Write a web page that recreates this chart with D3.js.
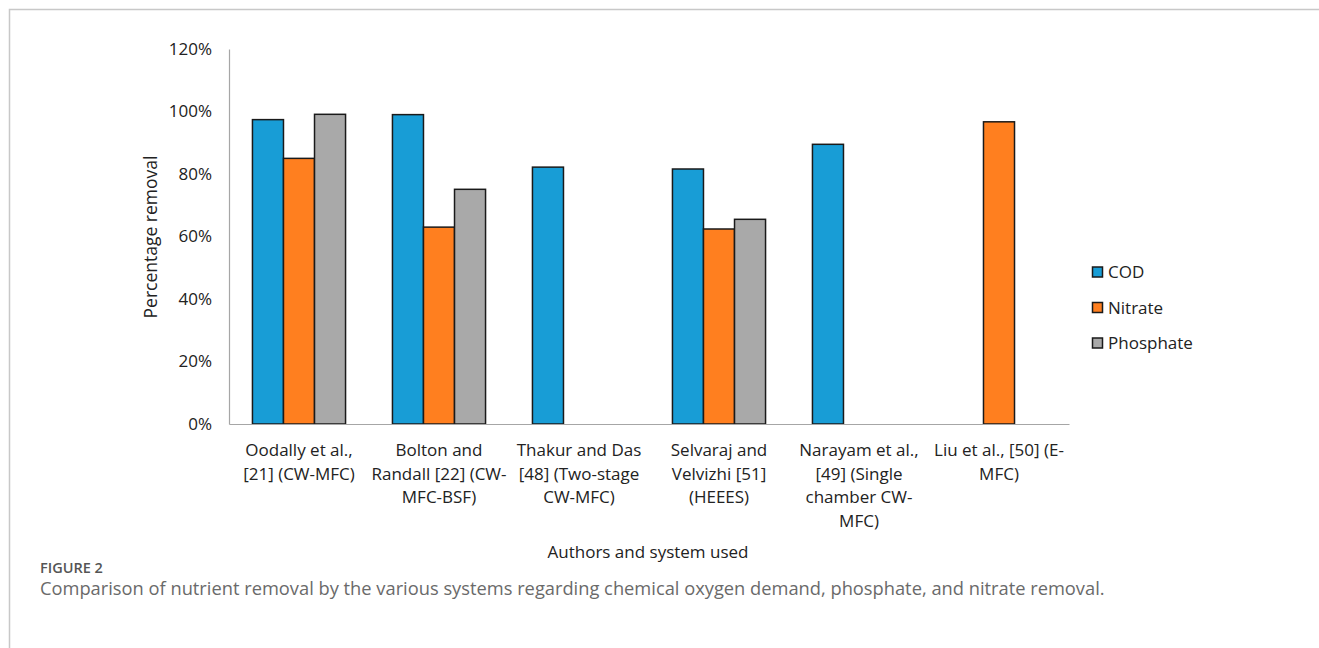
<!DOCTYPE html>
<html>
<head>
<meta charset="utf-8">
<script src="https://cdn.jsdelivr.net/npm/d3@7"></script>
<style>
  body { margin: 0; background: #fff; }
  text { font-family: "Open Sans", "Noto Sans", sans-serif; }
</style>
</head>
<body>
<div id="chart"></div>
<script>
// data
const categories = ["Oodally", "Bolton", "Thakur", "Selvaraj", "Narayam", "Liu"];
const categoryLabels = [
    ["Oodally et al.,", "[21] (CW-MFC)"],
    ["Bolton and", "Randall [22] (CW-", "MFC-BSF)"],
    ["Thakur and Das", "[48] (Two-stage", "CW-MFC)"],
    ["Selvaraj and", "Velvizhi [51]", "(HEEES)"],
    ["Narayam et al.,", "[49] (Single", "chamber CW-", "MFC)"],
    ["Liu et al., [50] (E-", "MFC)"]
];
const seriesNames = ["COD", "Nitrate", "Phosphate"];
const codValues = [0.974, 0.99, 0.822, 0.816, 0.895, null];
const nitrateValues = [0.85, 0.63, null, 0.624, null, 0.967];
const phosphateValues = [0.991, 0.751, null, 0.655, null, null];
const yTicks = [0, 0.2, 0.4, 0.6, 0.8, 1.0, 1.2];
const colors = ["#189dd6", "#ff7f1f", "#a9a9a9"];

const series = [codValues, nitrateValues, phosphateValues];

const W = 1319, H = 648;
const margin = { top: 49, right: 250, bottom: 224, left: 229 },
    width = 1069 - margin.left,
    height = 424 - margin.top;

const svg = d3.select("#chart")
    .append("svg")
    .attr("width", W)
    .attr("height", H);

// page frame
svg.append("path")
    .attr("d", `M9.5,${H} V9.5 H${W}`)
    .attr("fill", "none")
    .attr("stroke", "#c8c8c8")
    .attr("stroke-width", 1.5);

const group = svg.append("g")
    .attr("transform", `translate(${margin.left},${margin.top})`);

const xScale = d3.scaleBand()
    .domain(categories)
    .range([0, width])
    .paddingInner(0.335)
    .paddingOuter(0.1675);

const xInner = d3.scaleBand()
    .domain(seriesNames)
    .range([0, xScale.bandwidth()]);

const yScale = d3.scaleLinear()
    .domain([0, 1.2])
    .range([height, 0]);

// y axis
const yAxis = d3.axisLeft(yScale)
    .tickValues(yTicks)
    .tickFormat(d3.format(".0%"))
    .tickSize(0)
    .tickPadding(17);

const yDisplay = group.append("g")
    .attr("class", "axis y-axis")
    .call(yAxis);
yDisplay.select(".domain").attr("stroke", "#a6a6a6").attr("stroke-width", 1.2);
yDisplay.selectAll("text")
    .attr("font-size", 17)
    .attr("fill", "#222")
    .attr("font-family", "'Open Sans', sans-serif");

// bars
series.forEach((vals, si) => {
    group.append("g")
        .selectAll("rect")
        .data(categories.map((c, i) => ({ cat: c, v: vals[i] })).filter(d => d.v != null))
        .join("rect")
        .attr("x", d => xScale(d.cat) + xInner(seriesNames[si]))
        .attr("y", d => yScale(d.v))
        .attr("width", xInner.bandwidth())
        .attr("height", d => yScale(0) - yScale(d.v))
        .attr("fill", colors[si])
        .attr("stroke", "#1a1a1a")
        .attr("stroke-width", 1.5);
});

// x axis
const xAxis = d3.axisBottom(xScale)
    .tickSize(0)
    .tickFormat("");

const xDisplay = group.append("g")
    .attr("class", "axis x-axis")
    .attr("transform", `translate(0, ${height})`)
    .call(xAxis);
xDisplay.select(".domain").attr("stroke", "#a6a6a6").attr("stroke-width", 1.2);

xDisplay.selectAll(".tick")
    .each(function (d, i) {
        const t = d3.select(this).append("text")
            .attr("text-anchor", "middle")
            .attr("font-size", 17)
            .attr("fill", "#222");
        categoryLabels[i].forEach((line, li) => {
            t.append("tspan")
                .attr("x", 0)
                .attr("y", 32 + li * 23.7)
                .text(line);
        });
    });

// axis titles
svg.append("text")
    .attr("transform", `translate(157, 237) rotate(-90)`)
    .attr("text-anchor", "middle")
    .attr("font-size", 17.5)
    .attr("fill", "#222")
    .text("Percentage removal");

svg.append("text")
    .attr("x", 648)
    .attr("y", 558)
    .attr("text-anchor", "middle")
    .attr("font-size", 17)
    .attr("fill", "#222")
    .text("Authors and system used");

// legend
const legend = svg.append("g")
    .attr("transform", "translate(1092, 272)");
seriesNames.forEach((name, i) => {
    const row = legend.append("g").attr("transform", `translate(0, ${i * 35.5})`);
    row.append("rect")
        .attr("x", 0.5).attr("y", -5)
        .attr("width", 10).attr("height", 10)
        .attr("fill", colors[i])
        .attr("stroke", "#1a1a1a")
        .attr("stroke-width", 1.5);
    row.append("text")
        .attr("x", 16)
        .attr("y", 6)
        .attr("font-size", 17)
        .attr("fill", "#222")
        .text(name);
});

// caption
svg.append("text")
    .attr("x", 40)
    .attr("y", 573)
    .attr("font-size", 14.5)
    .attr("font-weight", 600)
    .attr("fill", "#555")
    .attr("font-family", "Lato, 'Open Sans', sans-serif")
    .text("FIGURE 2");

svg.append("text")
    .attr("x", 40)
    .attr("y", 595)
    .attr("font-size", 18.3)
    .attr("fill", "#6a6a6a")
    .attr("font-family", "Lato, 'Open Sans', sans-serif")
    .text("Comparison of nutrient removal by the various systems regarding chemical oxygen demand, phosphate, and nitrate removal.");
</script>
</body>
</html>
